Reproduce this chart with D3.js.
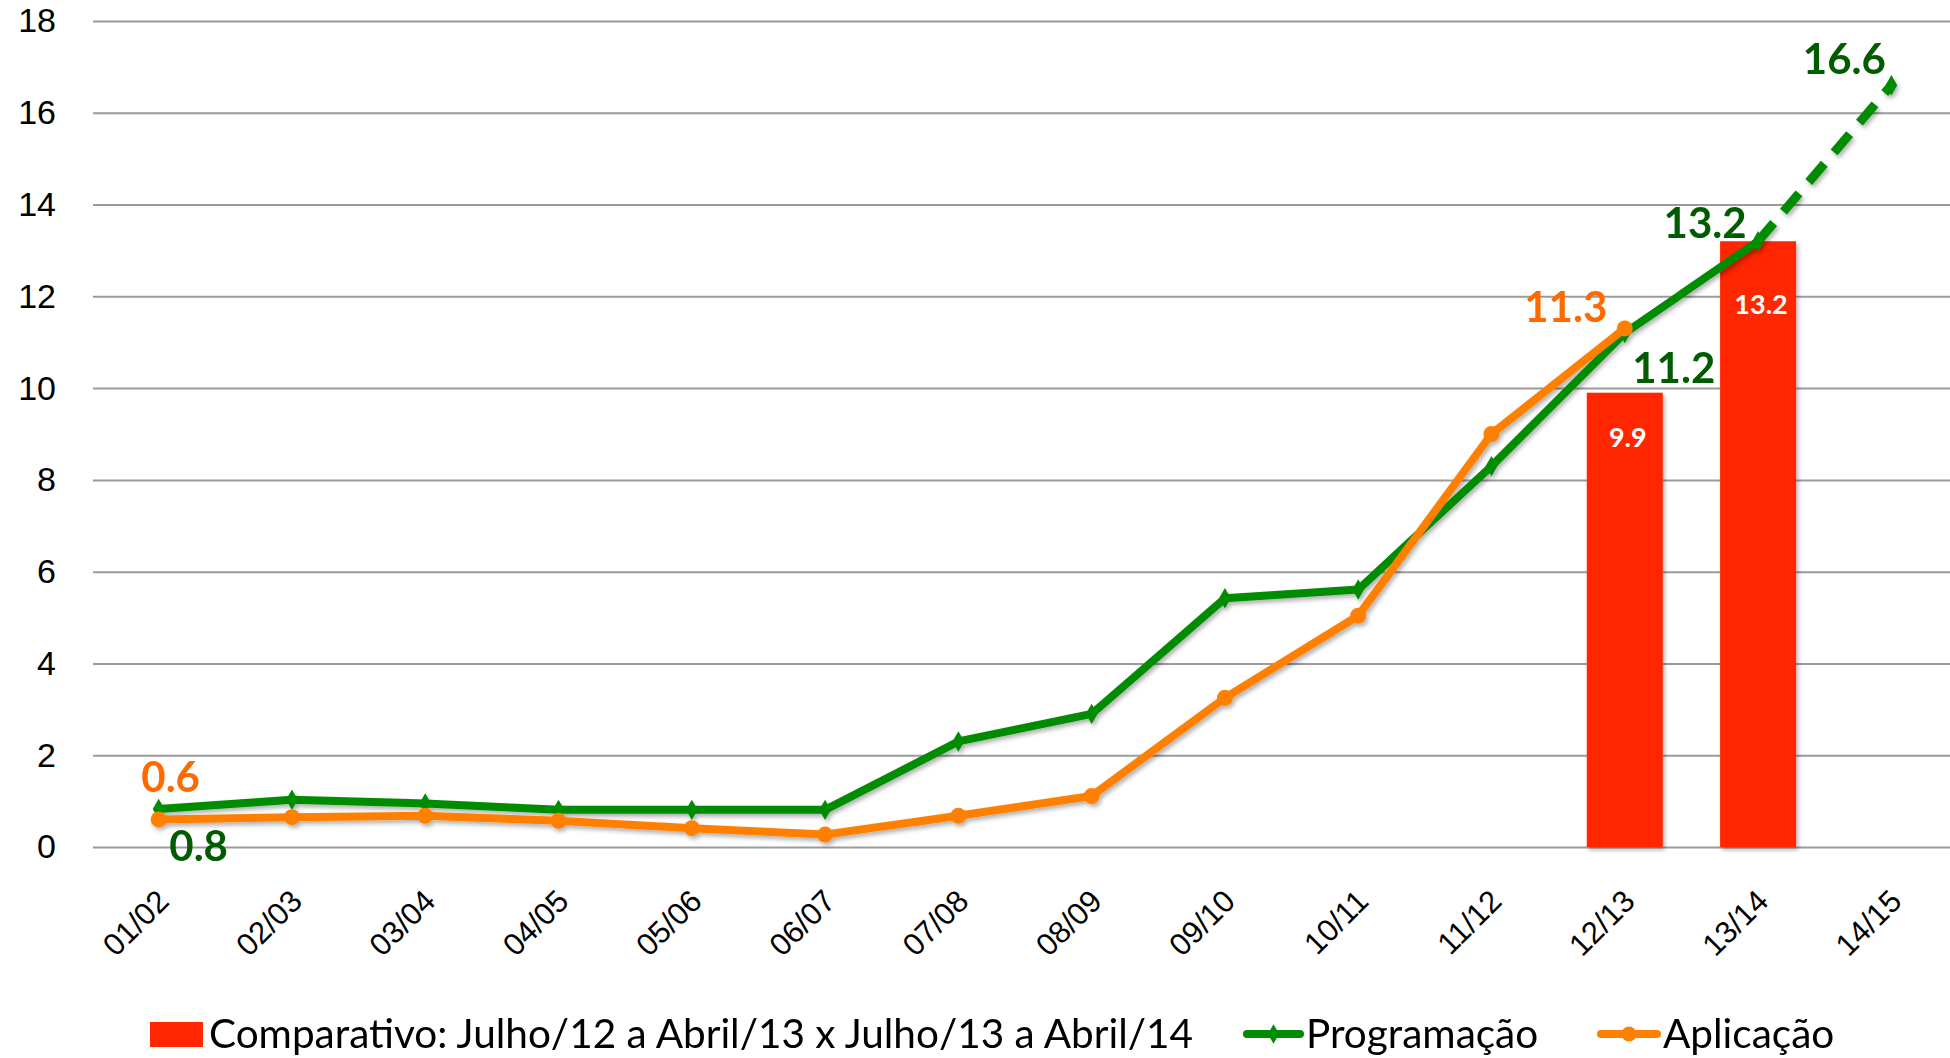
<!DOCTYPE html>
<html>
<head>
<meta charset="utf-8">
<script src="https://cdn.jsdelivr.net/npm/d3@7.9.0/dist/d3.min.js"></script>
<style>
  body { margin: 0; background: #fff; }
  svg { display: block; font-family: Lato, 'Open Sans', sans-serif; }
</style>
</head>
<body>
<svg id="chart" width="1950" height="1058"></svg>
<script>
// Seasons on the x axis
const seasons = ['01/02', '02/03', '03/04', '04/05', '05/06', '06/07', '07/08',
                 '08/09', '09/10', '10/11', '11/12', '12/13', '13/14', '14/15'];

// Programação (green) - last value is the projection (dashed)
const programacao = [0.83, 1.03, 0.95, 0.81, 0.81, 0.81, 2.3, 2.9, 5.42, 5.61, 8.3, 11.2, 13.2, 16.6];
// Aplicação (orange)
const aplicacao = [0.6, 0.65, 0.68, 0.57, 0.41, 0.27, 0.68, 1.11, 3.25, 5.04, 9.0, 11.3, null, null];

// Comparativo bars
const barSeasons = ['12/13', '13/14'];
const barValues = [9.9, 13.2];

const yTicks = [0, 2, 4, 6, 8, 10, 12, 14, 16, 18];

// which points get a data label
const progLabelIdx = [0, 11, 12, 13];
const aplLabelIdx = [0, 11];

const legendLabels = ['Comparativo: Julho/12 a Abril/13 x Julho/13 a Abril/14', 'Programação', 'Aplicação'];

const GREEN = '#008c00';
const DARK_GREEN = '#005c00';
const ORANGE = '#ff8000';
const ORANGE_TEXT = '#ff6a00';
const RED = '#ff2800';

const svg = d3.select('#chart');
const W = 1950;

const x = d3.scaleBand().domain(seasons).range([92, 1958]).padding(0);
const cx = (s) => x(s) + x.bandwidth() / 2;
const y = d3.scaleLinear().domain([0, 18]).range([847, 21]);

// drop shadow used by lines and bars
const defs = svg.append('defs');
defs.append('filter')
    .attr('id', 'shadow')
    .attr('x', '-10%').attr('y', '-10%').attr('width', '120%').attr('height', '120%')
    .append('feDropShadow')
    .attr('dx', 2).attr('dy', 3)
    .attr('stdDeviation', 2)
    .attr('flood-color', '#000')
    .attr('flood-opacity', 0.3);

// gridlines + y labels
const yAxis = svg.append('g')
    .attr('transform', 'translate(93,0)')
    .call(d3.axisLeft(y).tickValues(yTicks).tickSize(-(W - 93)).tickPadding(37));
yAxis.select('.domain').remove();
yAxis.selectAll('line').attr('stroke', '#9b9b9b').attr('stroke-width', 2);
yAxis.selectAll('text')
    .attr('fill', '#000')
    .style('font-size', '34px');

// x labels, rotated
const xAxis = svg.append('g')
    .attr('transform', `translate(0,${y(0)})`)
    .call(d3.axisBottom(x).tickSize(0));
xAxis.select('.domain').remove();
xAxis.selectAll('text')
    .attr('y', 0).attr('dy', 0)
    .attr('text-anchor', 'end')
    .attr('transform', 'translate(12,56) rotate(-45)')
    .attr('fill', '#000')
    .style('font-size', '31px');

// bars
const bars = barSeasons.map((s, i) => ({ season: s, value: barValues[i] }));
const barW = x.bandwidth() * 0.57;
svg.append('g')
    .attr('filter', 'url(#shadow)')
    .selectAll('rect')
    .data(bars)
    .join('rect')
    .attr('x', d => cx(d.season) - barW / 2)
    .attr('y', d => y(d.value))
    .attr('width', barW)
    .attr('height', d => y(0) - y(d.value))
    .attr('fill', RED);

svg.append('g')
    .selectAll('text')
    .data(bars)
    .join('text')
    .attr('x', d => cx(d.season) + 3)
    .attr('y', d => y(d.value) + 0.12 * (y(0) - y(d.value)))
    .attr('text-anchor', 'middle')
    .attr('fill', '#fff')
    .style('font-size', '27px')
    .style('font-weight', 'bold')
    .text(d => d.value.toFixed(1));

// lines
const prog = seasons.map((s, i) => ({ season: s, value: programacao[i] }));
const apl = seasons.map((s, i) => ({ season: s, value: aplicacao[i] }));

const line = d3.line()
    .defined(d => d.value != null)
    .x(d => cx(d.season))
    .y(d => y(d.value));

const lines = svg.append('g').attr('filter', 'url(#shadow)');

// solid part of programação, then the dashed projection
lines.append('path')
    .datum(prog.slice(0, 13))
    .attr('d', line)
    .attr('fill', 'none')
    .attr('stroke', GREEN)
    .attr('stroke-width', 8)
    .attr('stroke-linejoin', 'round');
lines.append('path')
    .datum(prog.slice(12))
    .attr('d', line)
    .attr('fill', 'none')
    .attr('stroke', GREEN)
    .attr('stroke-width', 9)
    .attr('stroke-dasharray', '24,15');
lines.selectAll('.diamond')
    .data(prog)
    .join('path')
    .attr('class', 'diamond')
    .attr('d', d3.symbol(d3.symbolDiamond, 120))
    .attr('transform', d => `translate(${cx(d.season)},${y(d.value)})`)
    .attr('fill', GREEN);

lines.append('path')
    .datum(apl)
    .attr('d', line)
    .attr('fill', 'none')
    .attr('stroke', ORANGE)
    .attr('stroke-width', 8)
    .attr('stroke-linejoin', 'round');
lines.selectAll('.dot')
    .data(apl.filter(d => d.value != null))
    .join('circle')
    .attr('class', 'dot')
    .attr('cx', d => cx(d.season))
    .attr('cy', d => y(d.value))
    .attr('r', 8)
    .attr('fill', ORANGE);

// data labels (offsets from the point)
const progOffsets = { 0: [40, 52], 11: [49, 50], 12: [-53, -3], 13: [-47, -11] };
const aplOffsets = { 0: [12, -27], 11: [-59, -6] };

function addLabels(data, idx, offsets, color) {
    svg.append('g')
        .selectAll('text')
        .data(idx)
        .join('text')
        .attr('x', i => cx(data[i].season) + offsets[i][0])
        .attr('y', i => y(data[i].value) + offsets[i][1])
        .attr('text-anchor', 'middle')
        .attr('fill', color)
        .style('font-size', '42px')
        .style('font-weight', 'bold')
        .text(i => data[i].value.toFixed(1));
}
addLabels(prog, progLabelIdx, progOffsets, DARK_GREEN);
addLabels(apl, aplLabelIdx, aplOffsets, ORANGE_TEXT);

// legend
const legend = svg.append('g').style('font-size', '40.5px');
legend.append('rect')
    .attr('x', 150).attr('y', 1022)
    .attr('width', 53).attr('height', 25)
    .attr('fill', RED);
legend.append('text').attr('x', 209).attr('y', 1048).text(legendLabels[0]);

legend.append('line')
    .attr('x1', 1247).attr('x2', 1300).attr('y1', 1034).attr('y2', 1034)
    .attr('stroke', GREEN).attr('stroke-width', 8).attr('stroke-linecap', 'round');
legend.append('path')
    .attr('d', d3.symbol(d3.symbolDiamond, 110))
    .attr('transform', 'translate(1273.5,1034)')
    .attr('fill', GREEN);
legend.append('text').attr('x', 1306).attr('y', 1048).text(legendLabels[1]);

legend.append('line')
    .attr('x1', 1601).attr('x2', 1657).attr('y1', 1034).attr('y2', 1034)
    .attr('stroke', ORANGE).attr('stroke-width', 8).attr('stroke-linecap', 'round');
legend.append('circle')
    .attr('cx', 1629).attr('cy', 1034).attr('r', 7.5)
    .attr('fill', ORANGE);
legend.append('text').attr('x', 1663).attr('y', 1048).text(legendLabels[2]);
</script>
</body>
</html>
